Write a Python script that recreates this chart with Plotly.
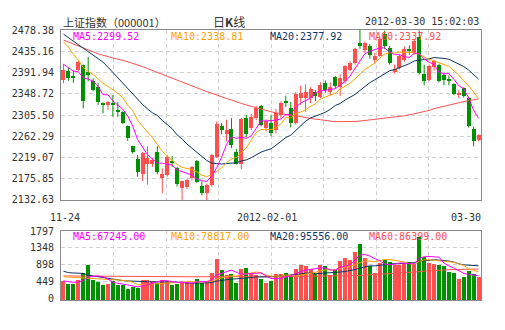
import plotly.graph_objects as go

# ---------------- data ----------------
dates = ["11-24", "11-25", "11-28", "11-29", "11-30",
         "12-01", "12-02", "12-05", "12-06", "12-07", "12-08", "12-09", "12-12", "12-13", "12-14",
         "12-15", "12-16", "12-19", "12-20", "12-21", "12-22", "12-23", "12-26", "12-27", "12-28",
         "12-29", "12-30",
         "01-04", "01-05", "01-06", "01-09", "01-10", "01-11", "01-12", "01-13", "01-16", "01-17",
         "01-18", "01-19", "01-20", "01-30", "01-31",
         "02-01", "02-02", "02-03", "02-06", "02-07", "02-08", "02-09", "02-10", "02-13", "02-14",
         "02-15", "02-16", "02-17", "02-20", "02-21", "02-22", "02-23", "02-24", "02-27", "02-28",
         "02-29",
         "03-01", "03-02", "03-05", "03-06", "03-07", "03-08", "03-09", "03-12", "03-13", "03-14",
         "03-15", "03-16", "03-19", "03-20", "03-21", "03-22", "03-23", "03-26", "03-27", "03-28",
         "03-29", "03-30"]

opens = [2377, 2395, 2385, 2398, 2407, 2393, 2375, 2362, 2328, 2326,
         2329, 2314, 2311, 2283, 2242, 2216, 2185, 2205, 2206, 2230,
         2177, 2184, 2212, 2198, 2156, 2159, 2177, 2211, 2162, 2147,
         2164, 2220, 2283, 2267, 2278, 2230, 2206, 2299, 2280, 2299,
         2324, 2279, 2290, 2275, 2306, 2333, 2320, 2290, 2340, 2340,
         2340, 2352, 2343, 2370, 2352, 2382, 2362, 2374, 2398, 2411,
         2452, 2438, 2445, 2417, 2426, 2470, 2442, 2394, 2401, 2418,
         2440, 2432, 2465, 2389, 2377, 2403, 2408, 2387, 2378, 2368,
         2347, 2360, 2341, 2278, 2255]
highs = [2409, 2401, 2396, 2416, 2408, 2424, 2380, 2370, 2331, 2334,
         2346, 2332, 2313, 2284, 2243, 2224, 2230, 2242, 2218, 2242,
         2197, 2224, 2222, 2200, 2172, 2176, 2202, 2214, 2170, 2166,
         2226, 2292, 2289, 2296, 2299, 2236, 2300, 2306, 2308, 2324,
         2326, 2297, 2305, 2318, 2333, 2345, 2332, 2352, 2365, 2368,
         2362, 2356, 2372, 2376, 2372, 2385, 2388, 2407, 2414, 2442,
         2478.38, 2455, 2450, 2432, 2462, 2477, 2446, 2408, 2428, 2445,
         2447, 2460, 2477, 2408, 2408, 2418, 2410, 2392, 2386, 2370,
         2356, 2362, 2343, 2282, 2266]
lows = [2370, 2375, 2371, 2395, 2319, 2374, 2354, 2326, 2309, 2316,
        2302, 2302, 2287, 2253, 2227, 2180, 2171, 2164, 2200, 2185,
        2146, 2180, 2200, 2160, 2133, 2155, 2172, 2167, 2142, 2132.63,
        2160, 2218, 2266, 2252, 2238, 2205, 2195, 2260, 2275, 2295,
        2282, 2272, 2262, 2268, 2300, 2322, 2280, 2286, 2326, 2312,
        2330, 2334, 2340, 2350, 2345, 2360, 2344, 2370, 2395, 2408,
        2440, 2432, 2420, 2410, 2424, 2440, 2408, 2390, 2398, 2414,
        2428, 2428, 2388, 2366, 2374, 2396, 2372, 2366, 2366, 2346,
        2340, 2341, 2280, 2242, 2252]
closes = [2398, 2380, 2381, 2413, 2333, 2387, 2356, 2331, 2327, 2332,
          2326, 2312, 2290, 2258, 2230, 2189, 2229, 2218, 2214, 2190,
          2186, 2221, 2207, 2165, 2171, 2174, 2199, 2169, 2146, 2164,
          2225, 2287, 2276, 2276, 2244, 2206, 2298, 2266, 2302, 2320,
          2285, 2293, 2268, 2310, 2330, 2331, 2290, 2348, 2350, 2353,
          2358, 2345, 2366, 2357, 2363, 2364, 2381, 2405, 2411, 2440,
          2445, 2452, 2427, 2426, 2460, 2445, 2411, 2400, 2425, 2440,
          2437, 2456, 2391, 2374, 2406, 2415, 2375, 2377, 2376, 2348,
          2350, 2344, 2283, 2252, 2264]
volumes = [457, 386, 386, 490, 678, 900, 501, 439, 368, 386,
           457, 350, 350, 262, 297, 279, 501, 501, 474, 412,
           501, 474, 368, 386, 439, 439, 412, 527, 412, 457,
           687, 1040, 766, 633, 640, 400, 790, 815, 660, 625,
           510, 404, 466, 650, 640, 687, 563, 776, 891, 865,
           776, 652, 891, 865, 625, 758, 1000, 1069, 1024, 1245,
           1450, 1069, 865, 687, 953, 1024, 980, 891, 891, 918,
           980, 918, 1644, 1096, 953, 918, 891, 865, 713, 687,
           510, 563, 740, 652, 563]

# closes before the first visible day (needed for the short averages)
pre_closes = [2481, 2528, 2530, 2489, 2467, 2416, 2415, 2419, 2396]
ma20_head = [2470, 2463, 2456, 2449, 2442, 2435, 2428, 2421, 2413, 2403,
             2392, 2381, 2370, 2359, 2348, 2337, 2327, 2318, 2310]
ma60_head = [2458, 2454, 2450, 2446, 2442, 2437, 2433, 2430, 2427, 2424,
             2421, 2419, 2417, 2414, 2411, 2408, 2404, 2400, 2396, 2392,
             2388, 2384, 2380, 2376, 2372, 2368, 2364, 2361, 2357, 2353,
             2350, 2346, 2343, 2339, 2336, 2332, 2329, 2326, 2323, 2320,
             2317, 2314, 2312, 2310, 2308, 2307, 2305, 2304, 2302, 2300,
             2299, 2297, 2296, 2294, 2293, 2292, 2292, 2291, 2291]
vma5_head = [470, 450, 430, 440]
vma10_head = [580, 570, 560, 550, 545, 540, 530, 520, 510]
vma20_head = [725, 690, 680, 672, 668, 620, 600, 570, 540, 520,
              510, 495, 478, 468, 458, 450, 448, 446, 445]
vma60_head = [600, 600, 599, 599, 598, 598, 597, 597, 596, 596,
              595, 594, 593, 592, 591, 590, 589, 588, 587, 586,
              585, 583, 582, 581, 580, 579, 578, 577, 576, 575,
              575, 575, 575, 576, 576, 577, 577, 578, 578, 579,
              580, 581, 582, 583, 584, 585, 585, 586, 587, 587,
              588, 589, 589, 590, 591, 591, 592, 593, 594]

price_ticks = ["2132.63", "2175.85", "2219.07", "2262.29", "2305.50",
               "2348.72", "2391.94", "2435.16", "2478.38"]
vol_ticks = ["0", "449", "898", "1348", "1797"]
x_tick_dates = ["11-24", "02-01", "03-30"]
x_tick_text = ["11-24", "2012-02-01", "03-30"]

price_legend = ["MA5:2299.52", "MA10:2338.81", "MA20:2377.92", "MA60:2337.92"]
vol_legend = ["MA5:67245.00", "MA10:78817.00", "MA20:95556.00", "MA60:86399.00"]
ma_colors = ["#ff00ff", "#ffa200", "#0b3565", "#ff5050"]

title_left = "上证指数（000001）"
title_mid = "日<b>K</b>线"
title_right = "2012-03-30 15:02:03"

# ---------------- helpers ----------------
def moving_avg(vals, n, head=None, pre=None):
    pre = pre or []
    full = pre + vals
    out = []
    for i in range(len(vals)):
        j = i + len(pre)
        if j >= n - 1:
            out.append(sum(full[j - n + 1:j + 1]) / n)
        else:
            out.append(head[i])
    return out

N = len(closes)
idx = list(range(N))
UP = "#ff4f4f"
DOWN = "#009000"
is_up = [c >= o for o, c in zip(opens, closes)]
colors = [UP if u else DOWN for u in is_up]

ma5 = moving_avg(closes, 5, pre=pre_closes)
ma10 = moving_avg(closes, 10, pre=pre_closes)
ma20 = moving_avg(closes, 20, head=ma20_head)
ma60 = moving_avg(closes, 60, head=ma60_head)
vma5 = moving_avg(volumes, 5, head=vma5_head)
vma10 = moving_avg(volumes, 10, head=vma10_head)
vma20 = moving_avg(volumes, 20, head=vma20_head)
vma60 = moving_avg(volumes, 60, head=vma60_head)

fig = go.Figure()

# wicks
for up_flag, col in [(True, UP), (False, DOWN)]:
    wx, wy = [], []
    for i in idx:
        if is_up[i] == up_flag:
            wx += [i, i, None]
            wy += [lows[i], highs[i], None]
    fig.add_trace(go.Scatter(x=wx, y=wy, mode="lines", line=dict(color=col, width=1),
                             hoverinfo="skip", xaxis="x", yaxis="y"))

# bodies
base = [min(o, c) for o, c in zip(opens, closes)]
height = [max(abs(c - o), 1.2) for o, c in zip(opens, closes)]
fig.add_trace(go.Bar(x=idx, y=height, base=base, width=0.8, marker=dict(color=colors, line=dict(width=0)),
                     xaxis="x", yaxis="y"))

# price MAs
for ser, col in zip([ma60, ma20, ma10, ma5], [ma_colors[3], ma_colors[2], ma_colors[1], ma_colors[0]]):
    fig.add_trace(go.Scatter(x=idx, y=ser, mode="lines", line=dict(color=col, width=1),
                             xaxis="x", yaxis="y", hoverinfo="skip"))

VOL_MIN = -40
fig.add_trace(go.Bar(x=idx, y=[v - VOL_MIN for v in volumes], base=VOL_MIN, width=0.8,
                     marker=dict(color=colors, line=dict(width=0)), xaxis="x2", yaxis="y2"))
for ser, col in zip([vma60, vma20, vma10, vma5], [ma_colors[3], ma_colors[2], ma_colors[1], ma_colors[0]]):
    fig.add_trace(go.Scatter(x=idx, y=ser, mode="lines", line=dict(color=col, width=1),
                             xaxis="x2", yaxis="y2", hoverinfo="skip"))

MONO = "DejaVu Sans Mono"
TXT = "#333333"
grid_x = [-0.5 + k * N / 8 for k in range(1, 8)]
xr = [-0.5, N - 0.5]
axis_common = dict(showline=True, mirror=True, linecolor="#8a8a8a", linewidth=1,
                   gridcolor="#d2d2d2", griddash="4px,3px", zeroline=False, ticks="",
                   showgrid=True, fixedrange=True)

fig.update_layout(
    width=505, height=330,
    margin=dict(l=55, r=24, t=30, b=30),
    paper_bgcolor="white", plot_bgcolor="white",
    showlegend=False, barmode="overlay", bargap=0,
    font=dict(family=MONO, size=10, color=TXT),
    xaxis=dict(domain=[0, 1], range=xr, anchor="y", tickvals=grid_x, showticklabels=False, **axis_common),
    yaxis=dict(domain=[100 / 270, 1], range=[2132.63 - 0.05, 2478.38 + 0.05],
               tickvals=[float(t) for t in price_ticks], ticktext=price_ticks,
               ticklabelstandoff=4, tickfont=dict(family=MONO, size=10, color=TXT), **axis_common),
    xaxis2=dict(domain=[0, 1], range=xr, anchor="y2", tickvals=grid_x, showticklabels=False, **axis_common),
    yaxis2=dict(domain=[0, 69 / 270], range=[VOL_MIN, 1797 + 0.5],
                tickvals=[float(t) for t in vol_ticks], ticktext=vol_ticks,
                ticklabelstandoff=4, tickfont=dict(family=MONO, size=10, color=TXT), **axis_common),
)

ann = []
# x labels
for d, t in zip(x_tick_dates, x_tick_text):
    i = dates.index(d)
    if i == 0:
        ann.append(dict(x=i, xref="x", y=(300 - 217) / 270, yref="paper", text=t, showarrow=False,
                        xanchor="center", yanchor="middle", xshift=2, font=dict(family=MONO, size=10, color=TXT)))
    elif i == N - 1:
        ann.append(dict(x=N - 0.5, xref="x", y=(300 - 217) / 270, yref="paper", text=t, showarrow=False,
                        xanchor="right", yanchor="middle", xshift=2, font=dict(family=MONO, size=10, color=TXT)))
    else:
        ann.append(dict(x=i, xref="x", y=(300 - 217) / 270, yref="paper", text=t, showarrow=False,
                        xanchor="center", yanchor="middle", xshift=-4, font=dict(family=MONO, size=10, color=TXT)))

# MA legends
leg_x = [(65 - 55) / 426, (165 - 55) / 426, (265 - 55) / 426, (365 - 55) / 426]
for k in range(4):
    ann.append(dict(x=leg_x[k], xref="paper", y=(300 - 36.5) / 270, yref="paper", text=price_legend[k],
                    showarrow=False, xanchor="left", yanchor="middle",
                    font=dict(family=MONO, size=10, color=ma_colors[k])))
    ann.append(dict(x=leg_x[k], xref="paper", y=(300 - 237) / 270, yref="paper", text=vol_legend[k],
                    showarrow=False, xanchor="left", yanchor="middle",
                    font=dict(family=MONO, size=10, color=ma_colors[k])))

# titles
ann.append(dict(x=0, xref="paper", y=(300 - 21.5) / 270, yref="paper", text=title_left, showarrow=False,
                xanchor="left", yanchor="middle", font=dict(family="Noto Sans CJK SC", size=11, color=TXT)))
ann.append(dict(x=(225 - 55) / 426, xref="paper", y=(300 - 21.5) / 270, yref="paper", text=title_mid,
                showarrow=False, xanchor="center", yanchor="middle",
                font=dict(family="Noto Sans CJK SC", size=12, color=TXT)))
ann.append(dict(x=(481 - 55) / 426, xref="paper", y=(300 - 21.5) / 270, yref="paper", text=title_right,
                showarrow=False, xanchor="right", yanchor="middle", font=dict(family=MONO, size=10, color=TXT)))
fig.update_layout(annotations=ann)

fig.write_html("out.html", config={"displayModeBar": False})
